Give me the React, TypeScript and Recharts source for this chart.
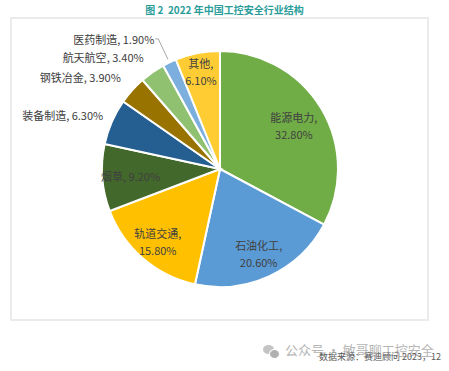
import { PieChart, Pie, Cell } from "recharts";

const industries = ["能源电力", "石油化工", "轨道交通", "烟草", "装备制造", "钢铁冶金", "航天航空", "医药制造", "其他"];
const shares = [32.8, 20.6, 15.8, 9.2, 6.3, 3.9, 3.4, 1.9, 6.1];
const colors = ["#70AD47", "#5B9BD5", "#FFC000", "#43682B", "#255E91", "#997300", "#8FC170", "#7CAFDD", "#FFCD33"];

// label placement per slice: radius as fraction of outer radius, inside = two-line centred
const labelPlacement = [
  { r: 0.73, mode: "two" },
  { r: 0.78, mode: "two" },
  { r: 0.81, mode: "two" },
  { r: 0.76, mode: "one" },
  { r: 1.08, mode: "out" },
  { r: 1.13, mode: "out" },
  { r: 1.13, mode: "out" },
  { r: 1.25, mode: "leader" },
  { r: 0.85, mode: "two" },
];

const chartData = industries.map((name, i) => ({ name, value: shares[i] }));

const RADIAN = Math.PI / 180;
const textColor = "#404040";

const renderLabel = (props: any) => {
  const { cx, cy, midAngle, outerRadius, index } = props;
  const place = labelPlacement[index];
  const cos = Math.cos(-midAngle * RADIAN);
  const sin = Math.sin(-midAngle * RADIAN);
  const x = cx + outerRadius * place.r * cos;
  const y = cy + outerRadius * place.r * sin;
  const name = industries[index];
  const pct = shares[index].toFixed(2) + "%";
  const common = { fill: textColor, fontSize: 11, fontFamily: "'Noto Sans CJK SC', sans-serif" };

  if (place.mode === "two") {
    return (
      <text x={x} y={y} textAnchor="middle" {...common}>
        <tspan x={x} dy={-3}>{name},</tspan>
        <tspan x={x} dy={17}>{pct}</tspan>
      </text>
    );
  }
  if (place.mode === "one") {
    return (
      <text x={x} y={y} textAnchor="middle" dominantBaseline="central" {...common}>
        {name}, {pct}
      </text>
    );
  }
  if (place.mode === "leader") {
    const x1 = cx + outerRadius * 1.03 * cos;
    const y1 = cy + outerRadius * 1.03 * sin;
    const x2 = cx + outerRadius * 1.22 * cos;
    const y2 = cy + outerRadius * 1.22 * sin;
    return (
      <g>
        <polyline points={`${x1},${y1} ${x2},${y2} ${x2 - 3},${y2}`} fill="none" stroke="#a6a6a6" strokeWidth={1} />
        <text x={x2 - 4} y={y2} textAnchor="end" dominantBaseline="central" {...common}>
          {name}, {pct}
        </text>
      </g>
    );
  }
  return (
    <text x={x} y={y - 3} textAnchor="end" dominantBaseline="central" {...common}>
      {name}, {pct}
    </text>
  );
};

export default function App() {
  return (
    <div style={{ position: "absolute", left: 0, top: 0, width: 449, height: 371, background: "#fff", fontFamily: "'Noto Sans CJK SC', sans-serif" }}>
      <div
        style={{
          position: "absolute",
          left: 0,
          top: 3,
          width: 449,
          textAlign: "center",
          color: "#2A9D9A",
          fontWeight: 700,
          fontSize: 10,
          lineHeight: "14px",
        }}
      >
        图 2&nbsp;&nbsp;2022 年中国工控安全行业结构
      </div>
      <div
        style={{
          position: "absolute",
          left: 10,
          top: 17,
          width: 415,
          height: 300,
          border: "2px solid #ebebeb",
        }}
      />
      <div style={{ position: "absolute", left: 0, top: 0 }}>
        <PieChart width={449} height={371} margin={{ top: 0, right: 0, bottom: 0, left: 0 }}>
          <Pie
            data={chartData}
            dataKey="value"
            nameKey="name"
            cx={220}
            cy={169}
            outerRadius={118}
            startAngle={90}
            endAngle={-270}
            stroke="#ffffff"
            strokeWidth={2}
            label={renderLabel}
            labelLine={false}
            isAnimationActive={false}
          >
            {chartData.map((_, index) => (
              <Cell key={`cell-${index}`} fill={colors[index]} />
            ))}
          </Pie>
        </PieChart>
      </div>
      <div
        style={{
          position: "absolute",
          left: 263,
          top: 342,
          color: "#b5b5b5",
          fontSize: 13,
          lineHeight: "16px",
          whiteSpace: "nowrap",
        }}
      >
        <span style={{ display: "inline-block", width: 16, height: 12, marginRight: 6, verticalAlign: "middle", position: "relative" }}>
          <span style={{ position: "absolute", left: 0, top: 0, width: 11, height: 9, borderRadius: "50%", background: "#c4c4c4" }} />
          <span style={{ position: "absolute", left: 6, top: 4, width: 9, height: 8, borderRadius: "50%", background: "#b0b0b0", border: "1px solid #fff" }} />
        </span>
        公众号 · 敏哥聊工控安全
      </div>
      <div
        style={{
          position: "absolute",
          right: 8,
          top: 351,
          color: "#595959",
          fontSize: 9,
          lineHeight: "12px",
          whiteSpace: "nowrap",
        }}
      >
        数据来源：赛迪顾问 2023，12
      </div>
    </div>
  );
}
